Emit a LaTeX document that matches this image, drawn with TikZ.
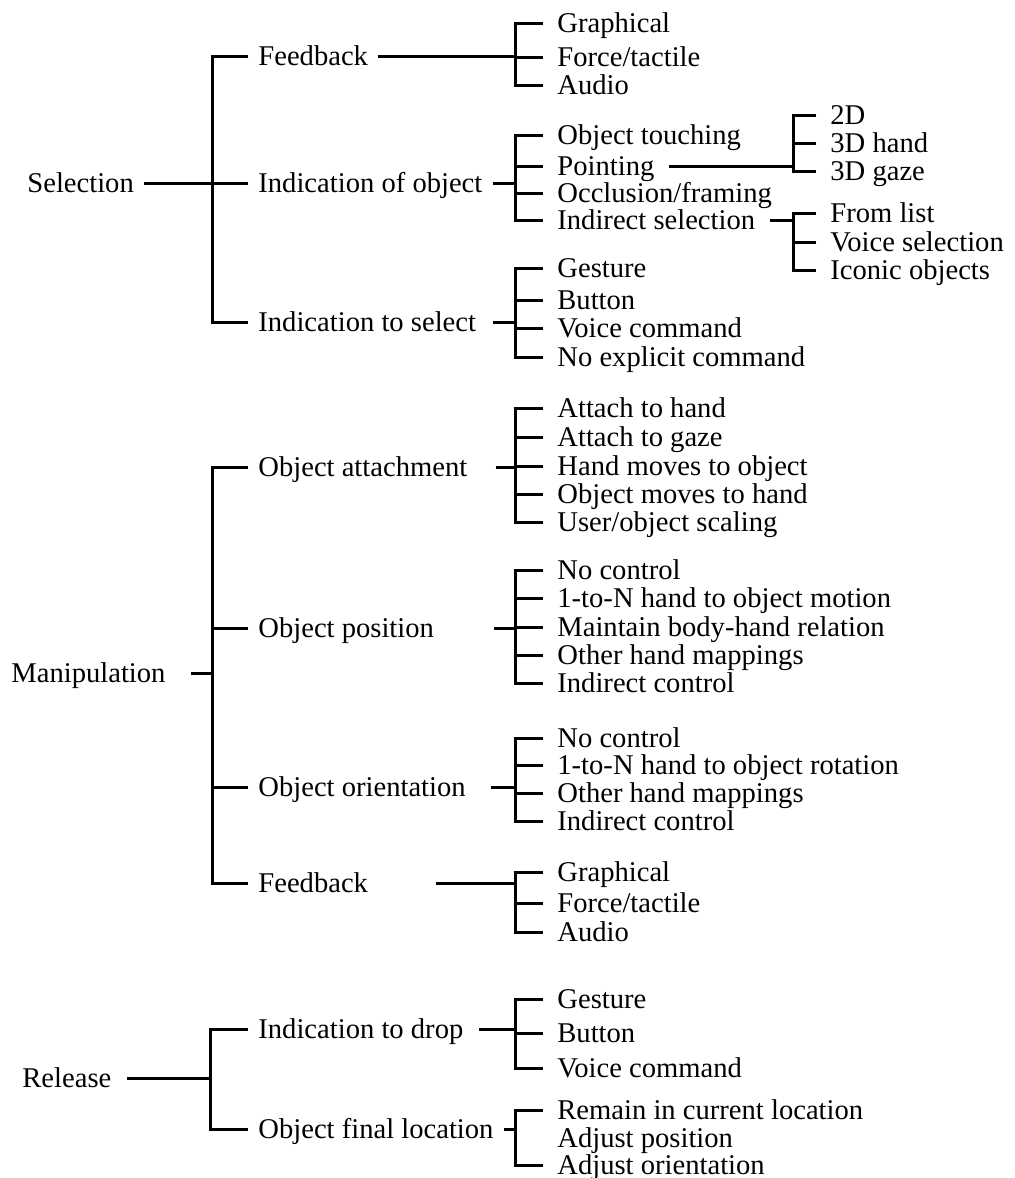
\documentclass[tikz,border=0pt]{standalone}
\usepackage{fontspec}
\setmainfont{Liberation Serif}
\usepackage{tikz}

\tikzset{
  lbl/.style={anchor=west, inner xsep=5pt, inner ysep=1pt,
    text height=9.4pt, text depth=0pt},
  leaf/.style={lbl, inner xsep=7pt},
  tree/.style={line width=1.5pt, line cap=butt},
}

\begin{document}
\begin{tikzpicture}[font=\fontsize{14.3}{17}\selectfont, x=0.5pt, y=-0.5pt]
  \useasboundingbox (0,0) rectangle (1014,1178);

  % bracket columns
  \coordinate (bA) at (212,0);
  \coordinate (bR) at (210,0);
  \coordinate (bB) at (515,0);
  \coordinate (bC) at (793,0);

  % tasks
  \node[lbl] (sel) at (17,183)  {Selection};
  \node[lbl] (man) at (1,673)   {Manipulation};
  \node[lbl] (rel) at (12,1078) {Release};

  % subtasks
  \node[lbl] (selFb)   at (248,56)   {Feedback};
  \node[lbl] (selObj)  at (248,183)  {Indication of object};
  \node[lbl] (selCmd)  at (248,322)  {Indication to select};
  \node[lbl] (manAtt)  at (248,467)  {Object attachment};
  \node[lbl] (manPos)  at (248,628)  {Object position};
  \node[lbl] (manOri)  at (248,787)  {Object orientation};
  \node[lbl] (manFb)   at (248,883)  {Feedback};
  \node[lbl] (relDrop) at (248,1029) {Indication to drop};
  \node[lbl] (relLoc)  at (248,1129) {Object final location};

  % techniques
  \node[leaf] (sfGraph) at (543,23)  {Graphical};
  \node[leaf] (sfForce) at (543,57)  {Force/tactile};
  \node[leaf] (sfAudio) at (543,85)  {Audio};

  \node[leaf] (soTouch) at (543,135) {Object touching};
  \node[leaf] (soPoint) at (543,166) {Pointing};
  \node[leaf] (soOccl)  at (543,193) {Occlusion/framing};
  \node[leaf] (soIndir) at (543,220) {Indirect selection};

  \node[leaf] (scGest)  at (543,268) {Gesture};
  \node[leaf] (scButt)  at (543,300) {Button};
  \node[leaf] (scVoice) at (543,328) {Voice command};
  \node[leaf] (scNone)  at (543,357) {No explicit command};

  \node[leaf] (maHand)  at (543,408) {Attach to hand};
  \node[leaf] (maGaze)  at (543,437) {Attach to gaze};
  \node[leaf] (maHtoO)  at (543,466) {Hand moves to object};
  \node[leaf] (maOtoH)  at (543,494) {Object moves to hand};
  \node[leaf] (maScale) at (543,522) {User/object scaling};

  \node[leaf] (mpNone)  at (543,570) {No control};
  \node[leaf] (mpOneN)  at (543,598) {1-to-N hand to object motion};
  \node[leaf] (mpBody)  at (543,627) {Maintain body-hand relation};
  \node[leaf] (mpOther) at (543,655) {Other hand mappings};
  \node[leaf] (mpIndir) at (543,683) {Indirect control};

  \node[leaf] (moNone)  at (543,738) {No control};
  \node[leaf] (moOneN)  at (543,765) {1-to-N hand to object rotation};
  \node[leaf] (moOther) at (543,793) {Other hand mappings};
  \node[leaf] (moIndir) at (543,821) {Indirect control};

  \node[leaf] (mfGraph) at (543,872) {Graphical};
  \node[leaf] (mfForce) at (543,903) {Force/tactile};
  \node[leaf] (mfAudio) at (543,932) {Audio};

  \node[leaf] (rdGest)  at (543,999)  {Gesture};
  \node[leaf] (rdButt)  at (543,1033) {Button};
  \node[leaf] (rdVoice) at (543,1068) {Voice command};

  \node[leaf] (rlRemain) at (543,1110) {Remain in current location};
  \node[leaf] (rlPos)    at (543,1138) {Adjust position};
  \node[leaf] (rlOri)    at (543,1165) {Adjust orientation};

  % pointing / indirect variants
  \node[leaf] (ptTwoD)  at (816,115) {2D};
  \node[leaf] (ptHand)  at (816,143) {3D hand};
  \node[leaf] (ptGaze)  at (816,171) {3D gaze};
  \node[leaf] (isList)  at (816,213) {From list};
  \node[leaf] (isVoice) at (816,242) {Voice selection};
  \node[leaf] (isIcon)  at (816,270) {Iconic objects};

  % parent line + outer bracket: parent/first/last/column/gap
  \foreach \p/\a/\z/\b/\g in {
    sel/selFb/selCmd/bA/0pt,
    man/manAtt/manFb/bA/7.5pt,
    rel/relDrop/relLoc/bR/2.5pt,
    selFb/sfGraph/sfAudio/bB/0pt,
    selObj/soTouch/soIndir/bB/0pt,
    selCmd/scGest/scNone/bB/3.5pt,
    manAtt/maHand/maScale/bB/9pt,
    manPos/mpNone/mpIndir/bB/25pt,
    manOri/moNone/moIndir/bB/7.5pt,
    manFb/mfGraph/mfAudio/bB/29pt,
    relDrop/rdGest/rdVoice/bB/2.5pt,
    relLoc/rlRemain/rlOri/bB/0pt,
    soPoint/ptTwoD/ptGaze/bC/0pt,
    soIndir/isList/isIcon/bC/0pt}{
    \draw[tree, shorten <=\g] (\p.east) -- (\p.east -| \b);
    \draw[tree] (\a.west) -- (\a.west -| \b) -- (\z.west -| \b) -- (\z.west);
  }

  % inner stubs
  \foreach \c/\b in {
    selObj/bA, manPos/bA, manOri/bA,
    sfForce/bB, soPoint/bB, soOccl/bB, scButt/bB, scVoice/bB,
    maGaze/bB, maHtoO/bB, maOtoH/bB,
    mpOneN/bB, mpBody/bB, mpOther/bB,
    moOneN/bB, moOther/bB, mfForce/bB, rdButt/bB,
    ptHand/bC, isVoice/bC}{
    \draw[tree] (\c.west) -- (\c.west -| \b);
  }
\end{tikzpicture}
\end{document}
